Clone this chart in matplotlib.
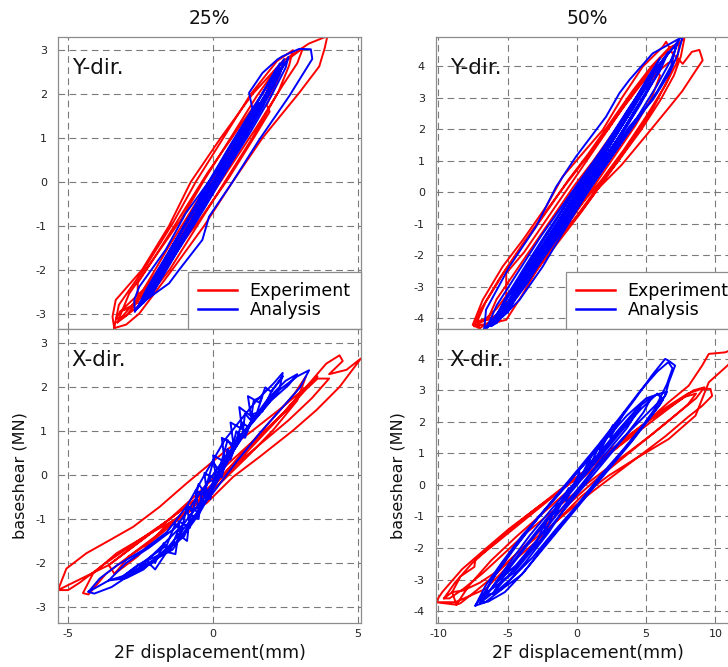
import matplotlib
matplotlib.use("Agg")
import matplotlib.pyplot as plt
from matplotlib.lines import Line2D

plt.rcParams['axes.unicode_minus'] = False
plt.rcParams['font.family'] = 'DejaVu Sans'

# ---- data (hysteresis paths, several loops each) ----
# 25% Y-dir.
y25_exp_x = [-3.41, -3.47, -3.36, -2.45, -1.52, -0.77, 0.26, 1.36, 2.40, 3.30, 3.94, 3.85, 3.66, 2.97, 1.70, 0.67, -0.31, -1.41, -2.55, -3.00, -3.41,
             -3.35, -3.25, -2.35, -1.40, -0.60, 0.35, 1.30, 2.20, 2.75, 2.62, 2.25, 1.35, 0.40, -0.55, -1.50, -2.35, -3.00, -3.35,
             -3.20, -2.60, -2.60, -2.00, -1.10, -0.30, 0.60, 1.50, 2.10, 2.45, 2.30, 1.85, 1.95, 1.40, 0.55, -0.40, -1.30, -2.20, -2.80, -3.20,
             -2.40, -1.60, -0.80, 0.10, 0.90, 1.60, 2.05, 1.80, 1.20, 0.40, -0.50, -1.40, -2.10, -2.40,
             -1.90, -1.00, -0.20, 0.60, 1.30, 1.50, 1.00, 0.20, -0.60, -1.40, -1.90,
             -3.30, -2.90, -2.00, -1.10, -0.20, 0.80, 1.80, 2.60, 3.10, 2.90, 2.40, 1.50, 0.50, -0.50, -1.50, -2.40, -3.00, -3.30]
y25_exp_y = [-3.33, -3.07, -2.69, -2.00, -1.00, 0.00, 1.00, 2.00, 2.75, 3.15, 3.32, 3.05, 2.63, 2.03, 1.00, 0.00, -1.00, -2.00, -3.00, -3.25, -3.33,
             -3.12, -2.80, -1.95, -0.95, 0.00, 1.00, 2.00, 2.75, 3.00, 2.65, 2.05, 1.00, 0.00, -1.00, -2.00, -2.70, -3.05, -3.12,
             -2.95, -2.75, -2.30, -1.70, -0.85, 0.05, 1.00, 1.95, 2.50, 2.75, 2.45, 1.75, 1.60, 1.00, 0.10, -0.80, -1.60, -2.40, -2.85, -2.95,
             -2.45, -1.55, -0.70, 0.25, 1.05, 1.75, 2.20, 1.95, 1.30, 0.40, -0.55, -1.50, -2.20, -2.45,
             -2.10, -1.05, -0.15, 0.75, 1.45, 1.70, 1.20, 0.30, -0.65, -1.55, -2.10,
             -3.20, -2.55, -1.70, -0.75, 0.20, 1.15, 2.10, 2.80, 3.05, 2.70, 2.20, 1.25, 0.25, -0.75, -1.75, -2.55, -3.05, -3.20]
y25_ana_x = [-2.70, -2.72, -2.55, -1.63, -0.94, -0.02, 0.67, 1.36, 1.24, 1.70, 2.22, 2.39, 2.97, 3.37, 3.42, 2.62, 1.59, 0.67, -0.14, -0.37, -1.17, -1.52, -2.32, -2.67, -2.70,
             -2.60, -2.30, -1.50, -0.70, 0.10, 0.90, 1.60, 2.20, 2.45, 2.30, 1.70, 1.00, 0.20, -0.60, -1.40, -2.10, -2.60,
             -2.50, -1.80, -1.00, -0.20, 0.60, 1.40, 2.00, 2.30, 2.05, 1.40, 0.70, -0.10, -0.90, -1.70, -2.30, -2.50,
             -2.30, -1.50, -0.60, 0.30, 1.10, 1.80, 2.10, 1.70, 0.90, 0.00, -0.80, -1.60, -2.30,
             -1.90, -1.20, -0.40, 0.40, 1.20, 1.60, 1.20, 0.50, -0.30, -1.10, -1.90,
             -2.65, -2.20, -1.40, -0.50, 0.40, 1.20, 1.90, 2.40, 2.60, 2.50, 2.00, 1.30, 0.50, -0.30, -1.10, -1.90, -2.50, -2.65,
             -2.40, -1.90, -1.10, -0.30, 0.50, 1.30, 1.90, 2.20, 1.90, 1.20, 0.40, -0.40, -1.20, -1.90, -2.40,
             -2.10, -1.30, -0.40, 0.50, 1.30, 1.90, 2.30, 2.10, 1.50, 0.70, -0.10, -0.90, -1.60, -2.10]
y25_ana_y = [-2.95, -2.69, -2.39, -1.54, -0.71, 0.12, 0.73, 1.65, 2.03, 2.48, 2.79, 2.86, 3.03, 3.02, 2.80, 1.95, 0.96, 0.00, -0.79, -1.32, -2.00, -2.31, -2.69, -2.92, -2.95,
             -2.85, -2.45, -1.55, -0.65, 0.25, 1.10, 1.90, 2.55, 2.80, 2.45, 1.70, 0.90, 0.00, -0.85, -1.70, -2.45, -2.85,
             -2.80, -1.95, -1.00, -0.05, 0.85, 1.70, 2.35, 2.70, 2.20, 1.45, 0.60, -0.30, -1.15, -2.00, -2.65, -2.80,
             -2.60, -1.70, -0.70, 0.30, 1.20, 1.95, 2.40, 1.80, 0.95, 0.00, -0.95, -1.85, -2.60,
             -2.30, -1.45, -0.50, 0.45, 1.35, 1.80, 1.30, 0.50, -0.40, -1.30, -2.30,
             -2.90, -2.40, -1.45, -0.50, 0.45, 1.35, 2.10, 2.60, 2.85, 2.60, 1.95, 1.15, 0.30, -0.60, -1.45, -2.25, -2.80, -2.90,
             -2.75, -2.10, -1.15, -0.20, 0.70, 1.55, 2.25, 2.60, 2.10, 1.25, 0.35, -0.55, -1.45, -2.25, -2.75,
             -2.55, -1.60, -0.60, 0.40, 1.30, 2.00, 2.60, 2.20, 1.50, 0.60, -0.30, -1.20, -2.00, -2.55]

# 25% X-dir.
x25_exp_x = [-5.35, -5.06, -4.37, -3.56, -2.76, -1.84, -0.92, -0.23, 0.46, 1.37, 2.41, 3.21, 3.90, 4.36, 4.47, 4.00, 4.60, 5.10,
             4.36, 3.56, 2.76, 1.61, 0.69, -0.23, -0.92, -2.18, -3.33, -4.14, -4.49, -4.30,
             -3.70, -2.80, -1.80, -0.80, 0.20, 1.20, 2.20, 3.00, 3.60, 3.20, 2.40, 1.40, 0.40, -0.60, -1.60, -2.70, -3.80, -4.60, -5.00, -5.35,
             -3.60, -2.60, -1.50, -0.50, 0.50, 1.50, 2.50, 3.20, 3.60, 4.00, 3.40, 2.60, 1.70, 0.80, -0.20, -1.30, -2.40, -3.20, -3.60,
             -3.40, -2.90, -2.00, -1.00, 0.00, 1.00, 2.00, 2.80, 3.20, 2.90, 2.10, 1.30, 0.30, -0.70, -1.70, -2.60, -3.40]
x25_exp_y = [-2.62, -2.13, -1.78, -1.48, -1.18, -0.72, -0.19, 0.19, 0.57, 1.02, 1.56, 2.01, 2.54, 2.73, 2.60, 2.30, 2.40, 2.66,
             2.01, 1.48, 1.02, 0.42, -0.04, -0.64, -0.87, -1.33, -1.78, -2.24, -2.69, -2.72,
             -2.25, -1.80, -1.30, -0.80, -0.20, 0.55, 1.25, 1.85, 2.25, 2.00, 1.40, 0.75, 0.05, -0.55, -1.05, -1.55, -2.05, -2.45, -2.62, -2.62,
             -2.05, -1.55, -1.00, -0.40, 0.25, 0.85, 1.45, 1.95, 2.20, 2.20, 1.75, 1.25, 0.75, 0.25, -0.35, -0.90, -1.45, -1.85, -2.05,
             -2.25, -1.85, -1.45, -0.90, -0.25, 0.50, 1.25, 1.85, 2.25, 1.70, 1.05, 0.50, -0.15, -0.70, -1.20, -1.85, -2.25]
x25_ana_x = [-4.30, -3.90, -3.30, -2.40, -1.60, -0.90, -0.30, 0.40, 1.00, 1.50, 2.10, 2.40, 2.30, 1.80, 1.00, 0.40, -0.30, -1.00, -1.90, -2.70, -3.50, -4.10, -4.30,
             -3.60, -3.00, -2.20, -1.30, -0.60, 0.20, 0.90, 1.60, 2.30, 2.90, 3.31, 3.00, 2.40, 1.60, 0.80, 0.00, -0.80, -1.50, -2.40, -3.00, -3.60,
             -2.60, -2.30, -2.00, -1.60, -1.30, -1.20, -0.90, -0.80, -0.50, -0.40, -0.10, 0.10, 0.30, 0.50, 0.60, 0.80, 1.00, 1.10, 1.30, 1.40, 1.70,
             1.50, 1.20, 1.00, 0.70, 0.50, 0.20, 0.00, -0.30, -0.50, -0.70, -0.90, -1.10, -1.30, -1.60,
             -3.20, -2.60, -1.80, -1.10, -0.50, 0.10, 0.70, 1.30, 1.90, 2.50, 2.90, 2.60, 2.00, 1.30, 0.60, 0.00, -0.60, -1.30, -2.10, -2.80, -3.20,
             -1.40, -1.10, -1.20, -0.80, -0.90, -0.50, -0.60, -0.20, -0.30, 0.10, 0.00, 0.40, 0.30, 0.70, 0.60, 1.00, 0.90, 1.30, 1.20, 1.60, 1.80, 2.00, 2.40,
             2.00, 1.70, 1.40, 1.10, 0.90, 0.60, 0.40, 0.10, -0.20, -0.40, -0.70, -1.00, -1.20, -1.50, -1.70, -2.00]
x25_ana_y = [-2.66, -2.35, -2.05, -1.70, -1.30, -0.70, 0.00, 0.80, 1.30, 1.70, 2.10, 2.33, 2.00, 1.60, 0.95, 0.30, -0.50, -1.10, -1.70, -2.20, -2.55, -2.70, -2.66,
             -2.40, -2.00, -1.65, -1.20, -0.55, 0.20, 0.85, 1.40, 1.95, 2.25, 2.39, 2.00, 1.55, 0.95, 0.30, -0.40, -1.05, -1.60, -2.15, -2.35, -2.40,
             -2.20, -1.95, -2.15, -1.75, -1.80, -1.35, -1.50, -0.90, -1.00, -0.40, -0.55, 0.10, -0.05, 0.60, 0.45, 1.00, 0.85, 1.40, 1.25, 1.70, 1.80,
             1.40, 1.10, 1.20, 0.60, 0.80, 0.10, 0.30, -0.40, -0.20, -0.85, -0.70, -1.30, -1.10, -1.60,
             -2.35, -2.05, -1.80, -1.45, -0.90, -0.20, 0.55, 1.20, 1.75, 2.15, 2.30, 2.05, 1.70, 1.15, 0.45, -0.25, -0.95, -1.55, -2.00, -2.25, -2.35,
             -1.70, -1.40, -1.05, -1.20, -0.70, -0.85, -0.35, -0.50, 0.05, -0.10, 0.45, 0.30, 0.85, 0.70, 1.20, 1.05, 1.55, 1.35, 1.80, 1.65, 2.00, 1.90, 2.25,
             1.90, 1.45, 1.40, 0.85, 0.95, 0.35, 0.40, -0.10, -0.15, -0.70, -0.80, -1.40, -1.25, -1.75, -1.55, -2.00]

# 50% Y-dir.
y50_exp_x = [-7.04, -7.52, -6.80, -5.36, -3.91, -2.22, -1.03, 0.42, 1.86, 3.31, 4.75, 6.20, 6.44, 6.90, 7.64, 8.30, 8.84, 9.08, 8.60, 7.60, 6.68, 5.00, 3.20, 1.50, 0.50, -0.60, -1.50, -2.95, -4.15, -5.36, -6.08, -7.04,
             -7.20, -6.60, -5.20, -3.60, -2.00, -0.60, 0.80, 2.40, 4.00, 5.40, 6.60, 7.40, 7.76, 7.50, 7.00, 6.00, 4.60, 3.00, 1.40, 0.00, -1.40, -2.80, -4.20, -5.40, -6.40, -7.20,
             -6.40, -5.80, -4.40, -3.00, -1.60, -0.20, 1.20, 2.80, 4.40, 5.80, 6.60, 7.00, 6.60, 5.60, 4.40, 3.00, 1.60, 0.20, -1.20, -2.60, -4.00, -5.20, -6.00, -6.40,
             -5.60, -5.10, -5.10, -3.80, -2.40, -1.00, 0.40, 1.80, 3.20, 4.60, 5.60, 6.00, 5.40, 4.20, 2.80, 1.40, 0.00, -1.40, -2.80, -4.00, -5.10, -5.60,
             -7.40, -6.90, -5.60, -4.00, -2.40, -0.80, 0.80, 2.40, 4.00, 5.60, 6.80, 7.40, 7.20, 6.40, 5.00, 3.40, 1.80, 0.20, -1.40, -3.00, -4.60, -5.80, -6.80, -7.40]
y50_exp_y = [-4.32, -4.21, -3.42, -2.36, -1.52, -0.46, 0.49, 1.23, 1.97, 3.03, 3.98, 4.61, 4.77, 4.40, 4.07, 4.45, 4.51, 4.18, 3.87, 3.20, 2.70, 1.80, 0.85, 0.10, -0.50, -1.10, -1.50, -2.20, -2.95, -3.73, -4.05, -4.32,
             -4.10, -3.50, -2.50, -1.50, -0.50, 0.40, 1.20, 2.20, 3.20, 4.00, 4.55, 4.75, 4.88, 4.30, 3.70, 2.90, 1.95, 1.00, 0.10, -0.75, -1.55, -2.40, -3.20, -3.80, -4.05, -4.10,
             -4.00, -3.40, -2.50, -1.60, -0.70, 0.20, 1.00, 2.00, 3.00, 3.80, 4.10, 4.15, 3.60, 2.75, 1.90, 1.00, 0.15, -0.70, -1.50, -2.30, -3.10, -3.70, -3.95, -4.00,
             -4.10, -3.70, -2.57, -1.90, -1.00, -0.10, 0.80, 1.70, 2.60, 3.40, 3.90, 3.70, 3.00, 2.10, 1.20, 0.30, -0.60, -1.50, -2.40, -3.30, -4.05, -4.10,
             -4.25, -3.70, -2.75, -1.70, -0.70, 0.25, 1.15, 2.10, 3.10, 4.05, 4.60, 4.70, 4.10, 3.40, 2.40, 1.35, 0.40, -0.45, -1.30, -2.15, -3.00, -3.70, -4.10, -4.25]
y50_ana_x = [-6.68, -6.56, -4.87, -2.95, -1.50, -0.06, 2.10, 3.07, 3.79, 5.47, 7.64, 7.30, 6.68, 5.47, 3.79, 1.86, 0.42, -1.03, -2.47, -4.15, -5.36, -6.68,
             -6.40, -5.80, -4.20, -2.60, -1.00, 0.60, 2.20, 3.80, 5.20, 6.40, 7.20, 6.80, 5.80, 4.40, 2.80, 1.20, -0.40, -2.00, -3.60, -5.00, -6.00, -6.40,
             -6.00, -5.00, -3.40, -1.80, -0.20, 1.40, 3.00, 4.40, 5.60, 6.20, 5.60, 4.60, 3.20, 1.80, 0.20, -1.40, -3.00, -4.40, -5.40, -6.00,
             -5.40, -4.20, -2.60, -1.00, 0.60, 2.20, 3.60, 4.80, 5.60, 5.00, 3.80, 2.40, 0.80, -0.80, -2.40, -3.80, -5.00, -5.40,
             -5.00, -3.60, -2.00, -0.40, 1.20, 2.80, 4.20, 4.80, 4.00, 2.60, 1.00, -0.60, -2.20, -3.60, -4.60, -5.00,
             -6.20, -5.20, -3.80, -2.20, -0.60, 1.00, 2.60, 4.00, 5.20, 6.00, 5.20, 4.00, 2.40, 0.80, -0.80, -2.40, -3.80, -5.00, -5.80, -6.20,
             -5.80, -4.60, -3.00, -1.40, 0.20, 1.80, 3.40, 4.80, 5.80, 6.60, 6.00, 4.80, 3.40, 1.80, 0.20, -1.40, -3.00, -4.40, -5.40, -5.80,
             -4.80, -3.40, -1.80, -0.20, 1.40, 2.80, 3.80, 4.20, 3.40, 2.00, 0.40, -1.20, -2.80, -4.00, -4.80,
             -6.50, -5.60, -4.00, -2.40, -0.80, 0.80, 2.40, 3.80, 5.00, 6.00, 6.80, 7.40, 6.80, 5.80, 4.40, 3.00, 1.40, -0.20, -1.80, -3.40, -4.80, -5.80, -6.50]
y50_ana_y = [-4.32, -3.73, -2.36, -1.09, 0.17, 1.13, 2.39, 3.14, 3.56, 4.40, 4.93, 4.40, 3.77, 2.92, 2.08, 0.81, -0.25, -1.30, -2.36, -3.42, -3.95, -4.32,
             -4.20, -3.60, -2.50, -1.40, -0.40, 0.60, 1.60, 2.70, 3.60, 4.30, 4.70, 4.00, 3.20, 2.30, 1.30, 0.30, -0.70, -1.70, -2.70, -3.50, -4.00, -4.20,
             -4.10, -3.30, -2.20, -1.10, 0.00, 1.00, 2.05, 3.00, 3.80, 4.20, 3.60, 2.80, 1.80, 0.90, -0.20, -1.20, -2.30, -3.20, -3.80, -4.10,
             -3.90, -2.90, -1.80, -0.70, 0.40, 1.45, 2.45, 3.30, 3.80, 3.20, 2.30, 1.30, 0.20, -0.90, -1.95, -2.90, -3.60, -3.90,
             -3.80, -2.70, -1.60, -0.50, 0.55, 1.60, 2.60, 3.00, 2.40, 1.40, 0.30, -0.80, -1.90, -2.90, -3.50, -3.80,
             -4.25, -3.40, -2.40, -1.30, -0.25, 0.80, 1.85, 2.80, 3.70, 4.25, 3.50, 2.60, 1.55, 0.50, -0.60, -1.70, -2.70, -3.50, -4.00, -4.25,
             -4.15, -3.20, -2.05, -0.95, 0.15, 1.20, 2.25, 3.20, 3.95, 4.45, 3.85, 3.00, 2.00, 0.95, -0.10, -1.15, -2.20, -3.15, -3.80, -4.15,
             -3.60, -2.55, -1.40, -0.30, 0.80, 1.80, 2.50, 2.80, 2.20, 1.20, 0.10, -1.00, -2.10, -3.00, -3.60,
             -4.30, -3.75, -2.70, -1.65, -0.60, 0.45, 1.50, 2.50, 3.40, 4.05, 4.50, 4.85, 4.20, 3.40, 2.40, 1.45, 0.40, -0.65, -1.70, -2.70, -3.55, -4.05, -4.30]

# 50% X-dir.
x50_exp_x = [-10.20, -9.72, -8.28, -6.60, -4.92, -3.00, -1.07, 0.38, 2.30, 4.70, 6.63, 8.07, 9.04, 9.52, 10.72, 11.40, 11.20, 10.87, 9.52, 8.56, 6.63, 4.22, 2.30, 0.38, -1.07, -3.00, -4.68, -6.60, -8.77, -10.20,
             -8.70, -7.80, -6.20, -4.40, -2.60, -0.80, 1.00, 2.80, 4.60, 6.40, 8.00, 9.00, 9.64, 9.76, 9.04, 8.00, 6.40, 4.60, 2.80, 1.00, -0.80, -2.60, -4.40, -6.00, -7.40, -8.40, -8.70,
             -9.00, -8.40, -7.40, -7.33, -6.00, -4.60, -3.20, -1.80, -0.40, 1.00, 2.40, 3.80, 5.20, 6.60, 7.80, 8.60, 8.00, 6.80, 5.40, 4.00, 2.60, 1.20, -0.20, -1.60, -3.00, -4.40, -5.80, -7.00, -8.20, -9.00,
             -9.60, -8.80, -7.60, -6.20, -4.80, -3.40, -1.80, -0.20, 1.60, 3.40, 5.20, 7.00, 8.40, 9.20, 8.60, 7.20, 5.40, 3.60, 1.80, 0.00, -1.80, -3.60, -5.20, -6.80, -8.20, -9.20, -9.60]
x50_exp_y = [-3.72, -3.40, -2.67, -2.03, -1.40, -0.76, -0.15, 0.35, 1.05, 1.88, 2.63, 3.15, 3.79, 4.16, 4.21, 4.35, 3.95, 3.79, 3.26, 2.20, 1.46, 0.83, 0.30, -0.34, -0.97, -1.82, -2.45, -3.30, -3.72, -3.72,
             -3.80, -3.20, -2.40, -1.65, -0.95, -0.25, 0.45, 1.15, 1.85, 2.45, 2.90, 3.05, 3.05, 2.83, 2.51, 2.15, 1.55, 0.95, 0.35, -0.25, -0.90, -1.55, -2.20, -2.90, -3.40, -3.75, -3.80,
             -3.40, -2.90, -2.60, -2.35, -1.90, -1.40, -0.90, -0.40, 0.10, 0.60, 1.10, 1.60, 2.05, 2.45, 2.80, 2.90, 2.55, 2.10, 1.60, 1.10, 0.60, 0.10, -0.45, -1.00, -1.60, -2.20, -2.75, -3.10, -3.35, -3.40,
             -3.60, -3.10, -2.50, -1.95, -1.40, -0.90, -0.35, 0.20, 0.75, 1.35, 1.95, 2.55, 3.00, 3.10, 2.75, 2.25, 1.60, 1.00, 0.40, -0.20, -0.85, -1.50, -2.15, -2.80, -3.30, -3.60, -3.60]
x50_ana_x = [-7.33, -6.60, -5.40, -3.96, -2.27, -0.60, 1.08, 2.76, 4.20, 5.40, 6.37, 6.60, 7.09, 6.63, 6.37, 5.17, 3.25, 1.33, -0.60, -2.03, -3.71, -5.40, -6.60, -7.33,
             -6.80, -5.80, -4.40, -2.80, -1.20, 0.40, 2.00, 3.60, 5.00, 6.00, 6.50, 6.00, 4.80, 3.20, 1.60, 0.00, -1.60, -3.20, -4.80, -6.00, -6.80,
             -6.20, -5.00, -3.40, -1.80, -0.20, 1.40, 3.00, 4.40, 5.40, 4.80, 3.40, 1.80, 0.20, -1.40, -3.00, -4.60, -5.80, -6.20,
             -5.60, -4.20, -2.60, -1.00, 0.60, 2.20, 3.80, 4.60, 3.60, 2.00, 0.40, -1.20, -2.80, -4.40, -5.60,
             -7.00, -6.20, -4.80, -3.20, -1.60, 0.00, 1.60, 3.20, 4.60, 5.80, 6.60, 6.90, 6.50, 5.60, 4.20, 2.60, 1.00, -0.60, -2.20, -3.80, -5.20, -6.40, -7.00,
             -6.00, -4.80, -3.20, -1.60, 0.00, 1.60, 3.20, 4.60, 5.80, 6.20, 5.40, 4.00, 2.40, 0.80, -0.80, -2.40, -4.00, -5.40, -6.00,
             -3.00, -2.20, -2.40, -1.40, -1.60, -0.60, -0.80, 0.20, 0.00, 1.00, 0.80, 1.80, 1.60, 2.60, 2.40, 3.40]
x50_ana_y = [-3.83, -3.20, -2.45, -1.61, -0.76, 0.09, 0.93, 1.88, 2.73, 3.47, 4.00, 3.95, 3.79, 3.26, 2.83, 2.31, 1.46, 0.51, -0.55, -1.50, -2.45, -3.30, -3.72, -3.83,
             -3.50, -2.80, -1.95, -1.05, -0.25, 0.60, 1.40, 2.20, 2.75, 2.90, 2.95, 2.55, 1.90, 1.05, 0.25, -0.65, -1.45, -2.30, -3.00, -3.45, -3.50,
             -3.30, -2.55, -1.60, -0.75, 0.05, 0.90, 1.75, 2.45, 2.80, 2.30, 1.50, 0.65, -0.20, -1.05, -1.95, -2.80, -3.20, -3.30,
             -3.00, -2.20, -1.30, -0.45, 0.40, 1.25, 2.10, 2.50, 1.80, 0.95, 0.05, -0.80, -1.70, -2.55, -3.00,
             -3.75, -3.05, -2.15, -1.25, -0.40, 0.45, 1.30, 2.20, 3.00, 3.60, 3.90, 3.70, 3.20, 2.40, 1.55, 0.70, -0.15, -1.00, -1.85, -2.75, -3.40, -3.70, -3.75,
             -3.40, -2.60, -1.70, -0.85, 0.00, 0.85, 1.70, 2.40, 2.90, 2.70, 2.20, 1.40, 0.55, -0.30, -1.15, -2.00, -2.85, -3.30, -3.40,
             -1.90, -1.10, -1.60, -0.60, -1.00, -0.10, -0.50, 0.40, 0.00, 0.90, 0.50, 1.40, 1.00, 1.90, 1.50, 2.30]

col_titles = ['25%', '50%']
legend_labels = ['Experiment', 'Analysis']
xticks_25 = [-5, 0, 5]
xticks_50 = [-10, -5, 0, 5, 10]
yticks_25 = [-3, -2, -1, 0, 1, 2, 3]
yticks_50 = [-4, -3, -2, -1, 0, 1, 2, 3, 4]

RED = '#ff0000'
BLUE = '#0000ff'
GRID = '#7a7a7a'
FRAME = '#8c8c8c'

fig = plt.figure(figsize=(7.28, 6.67), dpi=100)
W, H = 728, 667


def box(x0, y0, x1, y1):
    return [x0 / W, 1 - y1 / H, (x1 - x0) / W, (y1 - y0) / H]


def style(ax, xt, yt, xlim, ylim, show_x):
    ax.set_xlim(*xlim)
    ax.set_ylim(*ylim)
    ax.set_xticks(xt)
    ax.set_yticks(yt)
    ax.set_xticklabels([str(t) for t in xt])
    ax.set_yticklabels([str(t) for t in yt])
    ax.grid(True, ls=(0, (6, 4)), color=GRID, lw=0.8)
    ax.set_axisbelow(True)
    ax.tick_params(length=0, labelsize=8, colors='#222222')
    ax.tick_params(axis='y', pad=8)
    ax.tick_params(axis='x', pad=4)
    if not show_x:
        ax.tick_params(labelbottom=False)
    for s in ax.spines.values():
        s.set_color(FRAME)
        s.set_linewidth(0.9)


panels = [
    # (axes box, exp x, exp y, ana x, ana y, xticks, yticks, xlim, ylim, label, top?, column)
    (box(58, 37, 361, 329), y25_exp_x, y25_exp_y, y25_ana_x, y25_ana_y, xticks_25, yticks_25, (-5.35, 5.1), (-3.35, 3.3), 'Y-dir.', True, 0),
    (box(58, 329, 361, 623), x25_exp_x, x25_exp_y, x25_ana_x, x25_ana_y, xticks_25, yticks_25, (-5.35, 5.1), (-3.37, 3.33), 'X-dir.', False, 0),
    (box(436, 37, 739, 329), y50_exp_x, y50_exp_y, y50_ana_x, y50_ana_y, xticks_50, yticks_50, (-10.17, 11.7), (-4.34, 4.92), 'Y-dir.', True, 1),
    (box(436, 329, 739, 623), x50_exp_x, x50_exp_y, x50_ana_x, x50_ana_y, xticks_50, yticks_50, (-10.17, 11.7), (-4.38, 4.95), 'X-dir.', False, 1),
]

for rect, ex, ey, bx, by, xt, yt, xl, yl, lab, is_top, col in panels:
    ax = fig.add_axes(rect)
    ax.plot(ex, ey, color=RED, lw=1.4, solid_joinstyle='round')
    ax.plot(bx, by, color=BLUE, lw=1.4, solid_joinstyle='round')
    style(ax, xt, yt, xl, yl, not is_top)
    ax.text(0.045, 0.895, lab, transform=ax.transAxes, fontsize=15.5,
            va='center', ha='left', color='#111111')
    if is_top:
        ax.set_title(col_titles[col], fontsize=13.5, pad=9, color='#111111')
        handles = [Line2D([], [], color=RED, lw=1.8), Line2D([], [], color=BLUE, lw=1.8)]
        leg = ax.legend(handles, legend_labels, loc='lower right', bbox_to_anchor=(1, 0),
                        borderaxespad=0, fancybox=False, framealpha=1, edgecolor=FRAME,
                        fontsize=12.5, handlelength=2.2, labelspacing=0.02,
                        borderpad=0.6, handletextpad=0.75)
        leg.get_frame().set_linewidth(0.9)
    else:
        ax.set_xlabel('2F displacement(mm)', fontsize=12.5, labelpad=4, color='#111111')
        ax.set_ylabel('baseshear (MN)', fontsize=11.5, labelpad=6, color='#111111')

fig.savefig('out.png', dpi=100)
